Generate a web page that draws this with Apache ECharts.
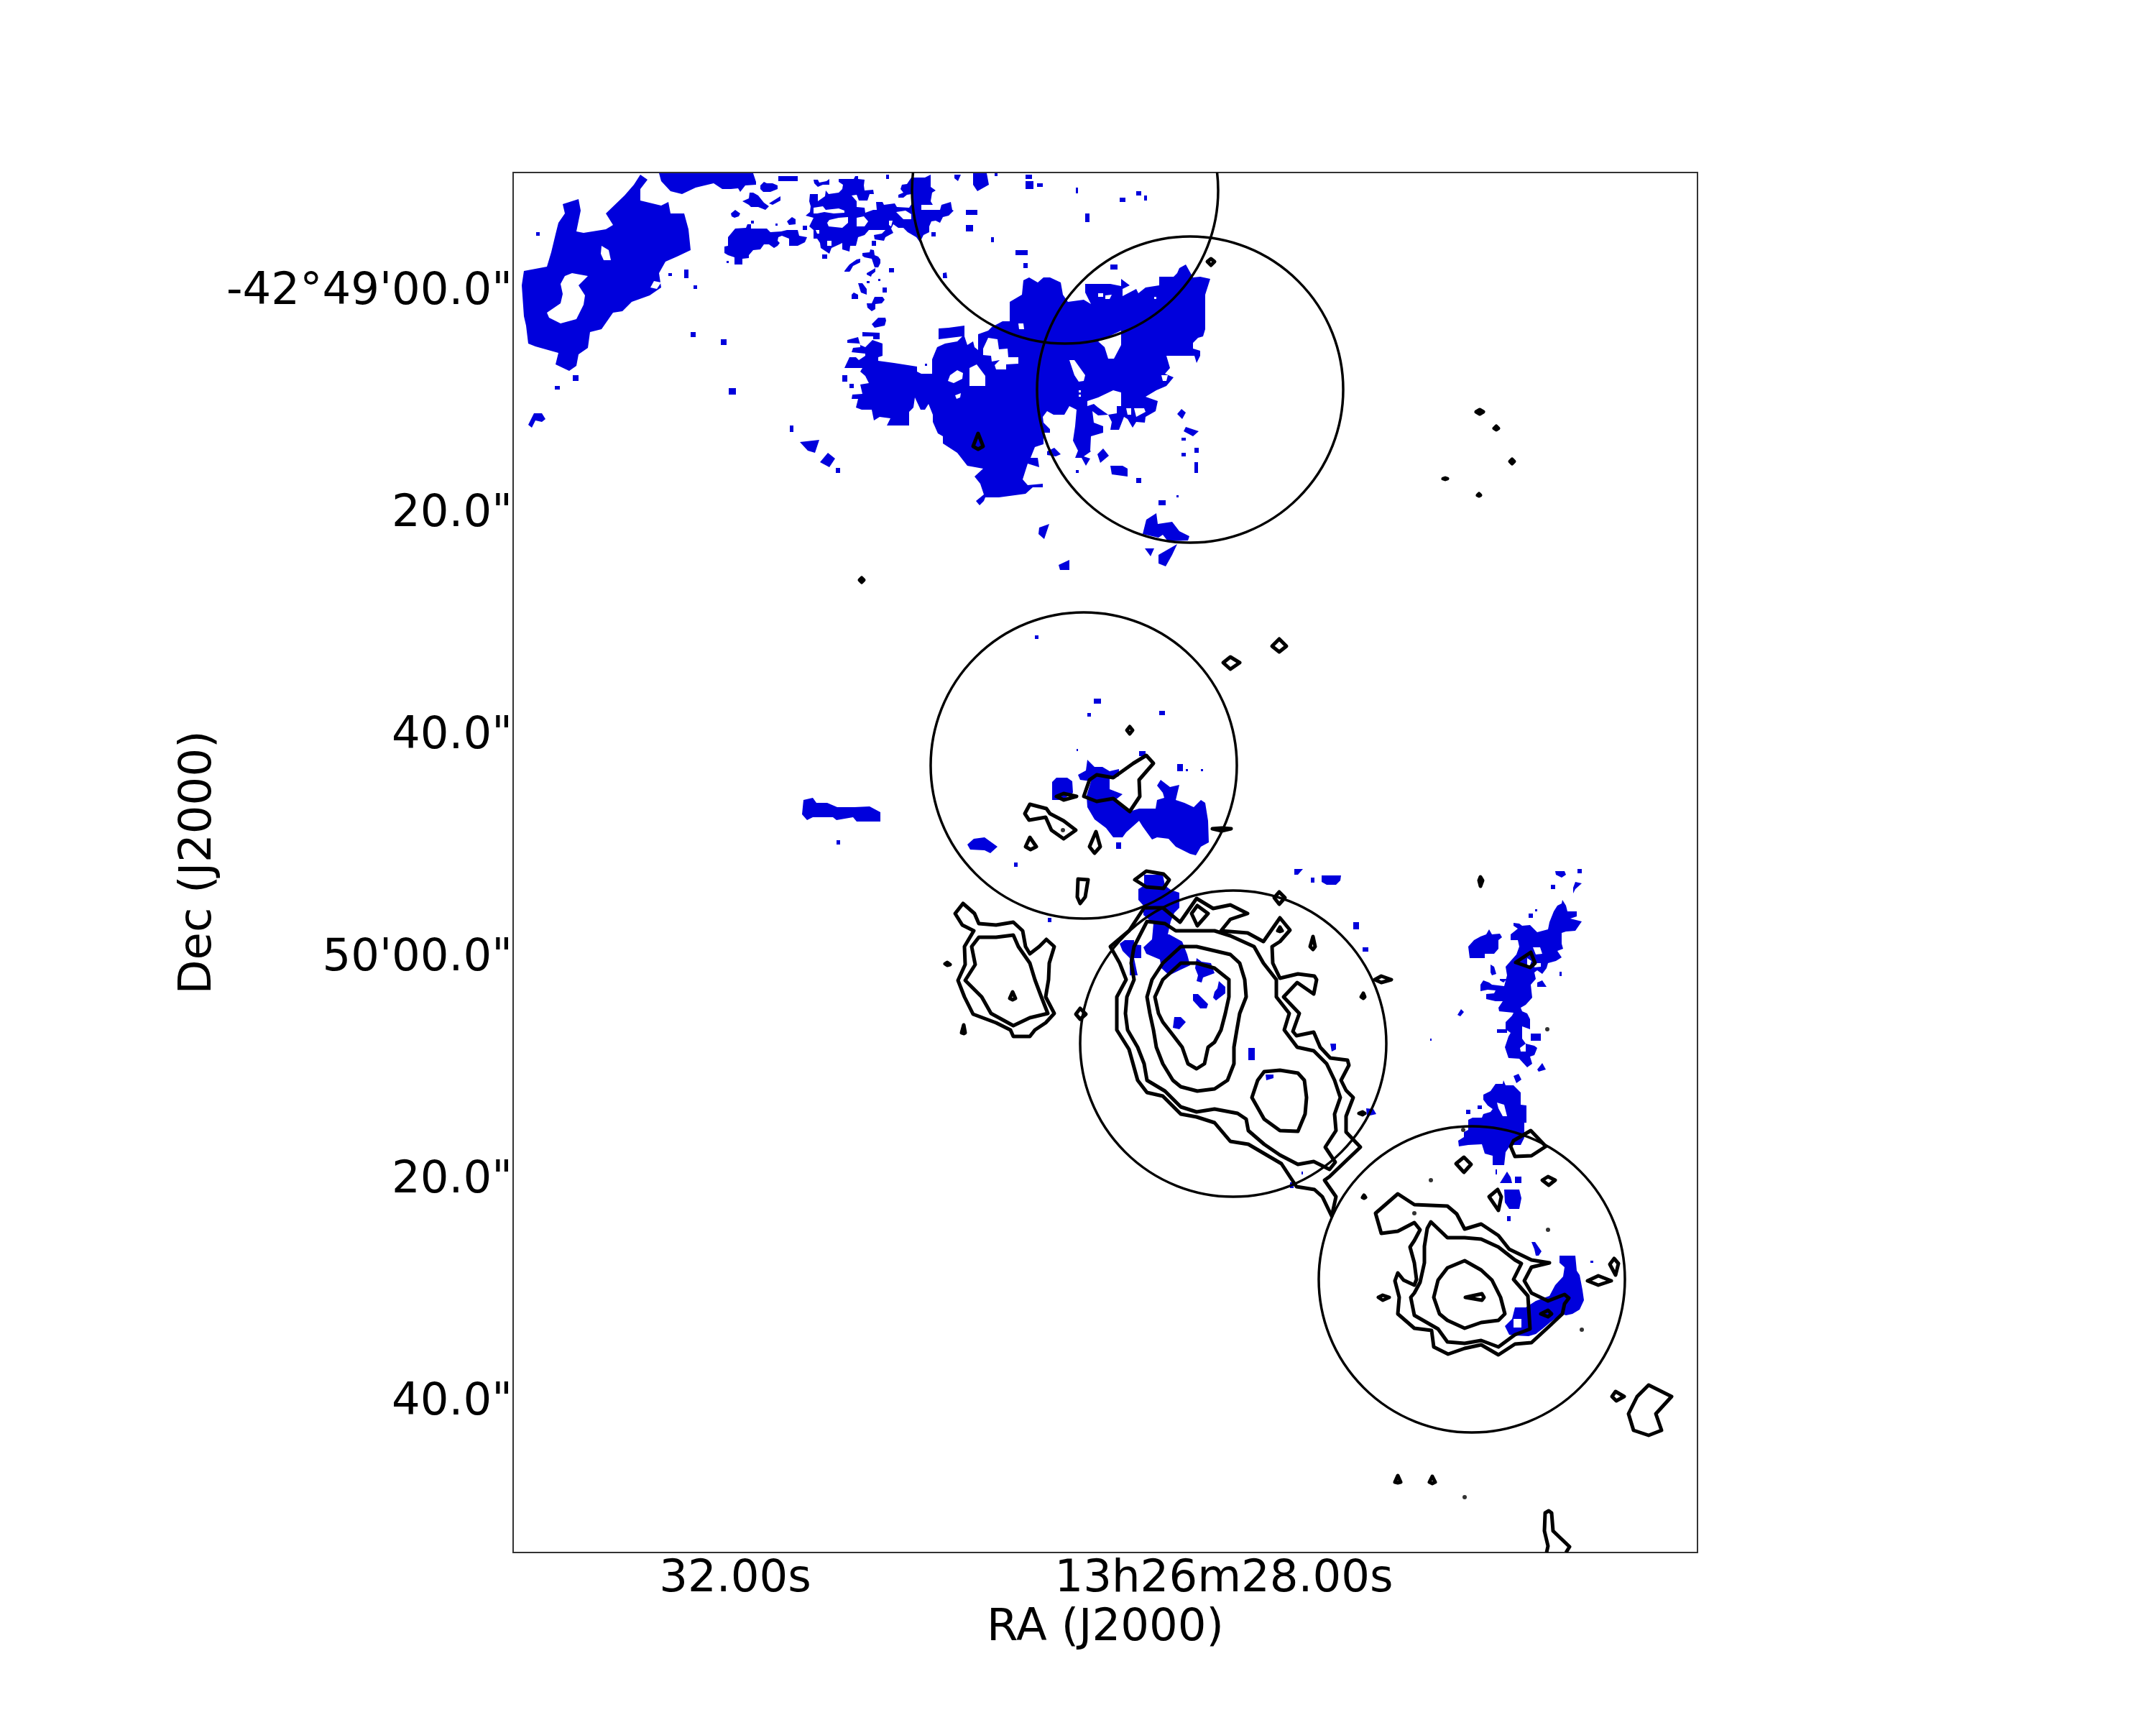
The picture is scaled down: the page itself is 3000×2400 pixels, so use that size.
<!DOCTYPE html>
<html><head><meta charset="utf-8">
<style>html,body{margin:0;padding:0;background:#fff}#c{width:3000px;height:2400px}</style>
<script src="https://cdn.jsdelivr.net/npm/echarts@6/dist/echarts.min.js"></script>
</head><body><div id="c"></div>
<script>
// All positions are image-pixel coordinates of the sky map (as in a WCS image axis).
const xTickValues = [1023, 1703];
const xTickLabels = ['32.00s', '13h26m28.00s'];
const yTickValues = [407, 716, 1025, 1334, 1643, 1952];
const yTickLabels = ['-42°49\'00.0"', '20.0"', '40.0"', '50\'00.0"', '20.0"', '40.0"'];

// Beam / aperture circles: centre x, centre y, radius
const apertures = [[1482,265,213],[1656,542,213],[1508,1065,213],[1716,1452,213],[2048,1780,213]];

// Blue emission: large patches
const emissionNW = [
 [891,243,901,250,891,263,891,279,920,286,930,281,933,297,952,297,958,319,961,348,942,357,926,364,917,380,920,400,904,411,879,420,866,433,853,435,837,458,821,462,818,484,805,493,802,509,792,516,773,507,777,491,745,482,735,478,732,453,729,440,726,397,729,377,761,371,767,351,773,326,777,310,786,297,783,284,805,277,808,293,802,322,812,324,843,319,853,313,843,297,869,272,882,257],
 [917,241,1048,241,1052,253,1052,257,1037,258,1030,267,1027,262,1017,263,1005,263,993,255,968,261,949,270,933,266,920,252],
 [1033,280,1042,276,1043,268,1048,268,1055,272,1063,282,1070,287,1065,292,1055,288,1045,288,1042,285],
 [1070,283,1078,278,1086,273,1086,279,1075,285],
 [1058,258,1063,253,1067,255,1075,255,1082,258,1082,263,1072,267,1062,267,1058,263],
 [1017,297,1023,292,1030,297,1028,301,1022,303,1018,301],
 [1095,308,1102,302,1107,305,1107,312,1098,313],
 [1132,250,1138,250,1140,254,1150,252,1154,249,1154,257,1145,257,1138,260,1133,255],
 [1013,330,1023,318,1038,317,1040,312,1045,312,1045,318,1067,318,1072,323,1087,322,1095,320,1110,320,1112,328,1123,330,1120,337,1110,342,1098,342,1098,332,1088,328,1083,330,1082,335,1085,338,1082,342,1077,345,1070,340,1063,340,1058,347,1048,348,1042,355,1042,359,1033,360,1033,368,1022,368,1022,358,1013,355,1008,352,1008,343,1013,342],
 [1127,270,1138,270,1138,280,1148,273,1149,265,1153,270,1167,268,1172,263,1173,257,1167,253,1167,249,1188,249,1190,245,1194,245,1194,249,1203,250,1202,258,1203,265,1215,264,1216,270,1210,270,1207,279,1195,279,1192,271,1185,272,1192,280,1192,288,1203,289,1204,296,1215,292,1220,292,1219,281,1228,281,1230,285,1245,283,1248,288,1265,289,1269,283,1269,270,1262,271,1257,275,1250,275,1250,271,1257,268,1253,263,1255,257,1262,256,1268,247,1287,247,1295,243,1295,260,1302,265,1297,268,1295,280,1298,285,1282,285,1282,292,1308,292,1310,285,1323,281,1325,292,1327,293,1320,300,1312,302,1308,310,1302,307,1296,308,1293,315,1293,323,1285,327,1280,337,1275,330,1263,323,1257,317,1250,317,1243,312,1240,318,1243,324,1232,330,1230,335,1217,333,1216,327,1227,325,1232,320,1209,320,1203,327,1194,330,1191,342,1183,342,1182,350,1172,347,1172,338,1168,340,1157,345,1154,353,1142,345,1141,338,1137,332,1132,332,1132,320,1126,315,1130,307,1132,303,1121,300,1127,295,1128,287,1126,280],
 [1354,241,1373,241,1376,257,1360,266,1354,257],
 [1200,352,1210,351,1211,347,1216,348,1217,355,1222,357,1225,361,1225,366,1222,372,1217,372,1213,360,1203,358,1200,356],
 [1175,377,1178,373,1182,368,1192,361,1197,360,1197,365,1187,370,1183,377,1182,378,1175,378],
 [1206,380,1213,376,1218,373,1218,378,1213,382,1212,385,1206,382],
 [1194,394,1200,394,1206,402,1206,410,1198,407],
 [1185,410,1188,407,1194,410,1194,416,1185,416],
 [1206,422,1213,422,1217,413,1228,413,1231,417,1227,422,1218,423,1218,430,1213,433,1207,428],
 [1213,451,1222,442,1232,442,1233,446,1231,453,1217,456],
 [1200,462,1224,463,1224,472,1215,472,1215,468,1200,468],
 [1312,380,1317,379,1318,387,1312,387],
 [1328,243,1337,243,1333,252,1328,248],
 [743,575,754,575,759,583,754,587,745,585,740,595,735,591],
 [1113,615,1140,612,1134,630,1124,627],
 [1152,630,1162,638,1154,650,1141,643]
];
const emissionCentral = [
 [1179,473,1194,469,1197,480,1204,483,1214,473,1228,478,1228,495,1222,497,1222,502,1244,505,1276,510,1276,517,1282,520,1297,520,1297,500,1304,483,1315,478,1332,475,1339,468,1306,472,1306,457,1320,456,1342,453,1342,468,1346,480,1354,475,1356,483,1361,487,1361,465,1375,460,1380,455,1395,447,1405,447,1405,420,1422,410,1424,390,1432,386,1444,393,1452,386,1461,386,1476,393,1479,410,1486,420,1508,417,1518,423,1510,407,1510,395,1545,395,1560,398,1560,388,1572,397,1562,402,1562,412,1581,402,1584,408,1594,400,1613,397,1613,385,1633,385,1638,380,1641,373,1650,368,1660,386,1670,385,1684,388,1677,410,1677,458,1674,468,1667,470,1660,477,1660,485,1670,488,1670,495,1665,505,1662,495,1623,495,1628,512,1621,520,1633,525,1623,537,1609,543,1594,552,1611,558,1608,572,1594,580,1593,588,1581,587,1576,595,1569,583,1564,580,1557,598,1545,598,1547,587,1542,577,1528,578,1520,572,1522,588,1535,593,1535,602,1518,607,1517,627,1518,628,1508,635,1517,638,1511,648,1505,637,1496,637,1500,627,1493,613,1496,593,1498,570,1488,565,1481,577,1466,577,1457,572,1451,580,1452,588,1461,597,1461,602,1452,602,1452,618,1440,622,1434,637,1444,637,1446,650,1430,645,1423,667,1430,675,1451,673,1451,678,1437,678,1427,687,1390,692,1371,692,1369,697,1363,703,1358,697,1369,688,1364,673,1356,663,1368,652,1346,648,1332,630,1312,617,1312,607,1305,603,1298,587,1298,577,1292,562,1287,570,1281,570,1273,553,1271,567,1265,573,1265,592,1234,592,1239,582,1224,580,1216,585,1213,570,1199,570,1191,567,1194,555,1185,555,1186,549,1200,548,1197,535,1209,533,1204,523,1197,517,1200,512,1175,512,1182,497,1191,497,1195,501,1204,495,1204,492,1185,490,1187,484,1197,483,1197,478,1179,477],
 [1457,628,1467,623,1476,632,1469,635,1457,633],
 [1535,624,1543,634,1531,644,1527,632],
 [1545,648,1562,648,1569,652,1569,663,1547,660],
 [1644,569,1650,574,1645,583,1638,576],
 [1650,594,1668,600,1660,607,1647,600],
 [1595,723,1609,714,1611,729,1631,726,1641,739,1655,746,1653,752,1625,753,1618,744,1612,748,1590,743],
 [1593,763,1606,763,1601,774],
 [1612,772,1638,757,1631,772,1622,788,1612,784],
 [1446,734,1460,729,1453,750,1445,743],
 [1473,786,1488,779,1488,793,1475,793]
];
const emissionMid = [
 [1118,1113,1131,1110,1136,1117,1151,1117,1165,1123,1189,1123,1210,1122,1225,1130,1225,1143,1192,1143,1187,1137,1164,1141,1159,1137,1131,1137,1123,1141,1116,1133],
 [1355,1167,1370,1165,1388,1178,1378,1187,1370,1183,1350,1182,1346,1175],
 [1470,1082,1485,1082,1492,1087,1493,1103,1478,1113,1464,1113,1464,1088],
 [1513,1057,1523,1067,1534,1067,1544,1073,1557,1070,1557,1080,1544,1083,1544,1098,1562,1105,1552,1113,1572,1129,1585,1125,1608,1125,1610,1113,1620,1110,1618,1103,1610,1093,1615,1085,1628,1095,1641,1092,1636,1113,1648,1117,1661,1123,1671,1113,1677,1117,1681,1142,1682,1172,1671,1178,1664,1190,1656,1188,1636,1178,1626,1167,1610,1165,1603,1168,1590,1150,1585,1142,1567,1158,1562,1165,1549,1165,1539,1152,1523,1140,1513,1123,1512,1107,1518,1087,1503,1085,1500,1078,1511,1072],
 [1592,1217,1618,1217,1621,1232,1629,1238,1641,1242,1641,1263,1634,1270,1629,1282,1625,1300,1627,1300,1645,1310,1652,1328,1656,1343,1641,1350,1627,1357,1616,1347,1614,1335,1595,1327,1591,1318,1603,1307,1605,1285,1591,1273,1591,1260,1584,1252,1584,1237,1592,1232],
 [1558,1313,1565,1308,1578,1308,1578,1314,1588,1315,1588,1333,1578,1333,1583,1357,1572,1357,1572,1333,1562,1323],
 [1665,1333,1672,1338,1685,1340,1690,1354,1674,1360,1672,1367,1665,1365,1667,1357,1663,1347],
 [1696,1365,1705,1373,1705,1382,1692,1392,1688,1388,1690,1380,1694,1375],
 [1660,1383,1667,1383,1681,1397,1679,1403,1670,1403,1660,1392],
 [1634,1415,1643,1415,1650,1422,1641,1432,1632,1430],
 [1761,1495,1772,1495,1772,1500,1762,1503],
 [1851,1452,1859,1452,1859,1460,1853,1463],
 [1901,1542,1911,1543,1915,1550,1902,1553],
 [1801,1209,1813,1209,1806,1217,1801,1217],
 [1839,1218,1866,1218,1865,1225,1859,1231,1846,1231,1839,1227]
];
const emissionEast = [
 [2164,1212,2177,1212,2179,1217,2173,1221,2165,1217],
 [2192,1227,2201,1229,2192,1237,2189,1243,2189,1235],
 [2174,1252,2179,1260,2181,1268,2194,1268,2194,1275,2185,1278,2201,1282,2192,1295,2179,1296,2173,1298,2173,1313,2175,1320,2167,1323,2173,1332,2165,1337,2154,1340,2152,1347,2146,1355,2139,1350,2135,1353,2137,1362,2130,1370,2132,1388,2123,1398,2116,1402,2118,1407,2125,1410,2129,1418,2129,1432,2118,1428,2118,1445,2123,1452,2135,1455,2139,1458,2135,1468,2129,1470,2132,1480,2125,1485,2114,1473,2099,1472,2094,1457,2099,1442,2102,1437,2095,1432,2095,1422,2104,1413,2106,1409,2086,1407,2085,1402,2091,1393,2081,1393,2068,1390,2068,1383,2079,1382,2081,1378,2070,1377,2060,1379,2060,1370,2064,1364,2072,1367,2076,1370,2093,1372,2097,1357,2095,1345,2102,1337,2110,1328,2114,1317,2112,1308,2102,1308,2102,1300,2112,1292,2106,1288,2106,1284,2114,1285,2118,1288,2129,1287,2139,1297,2154,1293,2156,1283,2162,1268,2167,1260,2173,1257],
 [2072,1293,2076,1300,2087,1299,2090,1304,2085,1308,2085,1320,2079,1327,2066,1327,2066,1333,2045,1333,2043,1317,2051,1308,2060,1303,2068,1300],
 [2074,1342,2079,1345,2082,1355,2076,1357,2074,1353],
 [2087,1362,2097,1362,2092,1367,2087,1364],
 [2139,1367,2146,1364,2152,1373,2139,1373],
 [2033,1404,2037,1408,2032,1414,2028,1412],
 [2139,1488,2146,1479,2151,1488,2141,1491],
 [2106,1497,2113,1494,2117,1502,2110,1507],
 [2092,1503,2095,1510,2106,1510,2116,1520,2116,1537,2124,1538,2124,1562,2121,1562,2121,1583,2116,1593,2102,1593,2095,1603,2093,1621,2077,1621,2077,1608,2066,1605,2062,1592,2043,1593,2030,1595,2029,1587,2037,1582,2037,1575,2043,1572,2043,1558,2049,1555,2062,1555,2064,1550,2074,1547,2077,1543,2070,1538,2064,1530,2064,1523,2074,1518,2081,1508,2091,1508],
 [2097,1630,2102,1638,2104,1646,2087,1646],
 [2093,1655,2114,1655,2117,1667,2114,1682,2100,1682,2094,1673],
 [2131,1728,2136,1728,2145,1741,2141,1747,2137,1747,2135,1738],
 [2170,1747,2192,1747,2194,1768,2198,1774,2202,1795,2204,1809,2198,1822,2188,1828,2179,1830,2173,1828,2158,1839,2146,1849,2137,1856,2127,1859,2106,1858,2100,1857,2094,1845,2104,1835,2108,1819,2123,1819,2137,1810,2156,1803,2164,1788,2175,1776,2177,1763,2170,1757]
];
// Blue emission: single small clumps, x0,y0,x1,y1
const emissionClumps = [
 [1083,245,1110,252],[1427,243,1436,249],[1427,252,1438,263],[1117,314,1123,320],[1045,307,1049,311],[1079,311,1082,314],
 [1144,354,1151,360],[1213,335,1219,342],[1296,323,1302,329],[1237,373,1244,379],[1222,388,1225,391],[1206,391,1210,394],[1228,400,1234,407],[1011,363,1014,366],
 [1344,292,1360,299],[1344,313,1354,322],[1413,348,1430,355],[1424,366,1430,373],[1379,330,1383,337],[1558,275,1566,281],
 [1581,266,1588,272],[1592,272,1596,279],[1497,261,1500,269],[1510,297,1516,309],[1443,255,1451,260],[1545,368,1555,375],
 [1233,243,1237,249],[1384,241,1388,245],[930,380,935,384],
 [952,375,958,387],[965,397,970,402],[961,462,968,469],[1003,472,1011,480],[746,323,751,328],[797,522,805,530],[772,537,779,542],
 [1014,540,1024,549],[1099,592,1104,601],[1163,651,1169,658],[1581,665,1588,672],[1497,654,1501,658],[1644,609,1650,613],
 [1662,623,1668,630],[1644,630,1650,635],[1662,643,1667,658],[1612,696,1622,703],[1637,689,1640,692],[1440,884,1445,889],
 [1172,522,1179,531],[1182,534,1188,540],[1287,506,1290,509],
 [1164,1169,1169,1175],[1411,1200,1416,1206],[1522,972,1532,979],[1513,992,1518,997],[1613,989,1621,995],[1498,1042,1500,1045],
 [1585,1045,1594,1052],[1638,1063,1646,1073],[1650,1070,1653,1073],[1671,1070,1674,1073],[1553,1172,1560,1181],[1458,1277,1463,1283],
 [1737,1458,1746,1475],[1883,1283,1891,1293],[1896,1318,1904,1324],[1824,1221,1829,1228],[1795,1645,1800,1653],[1811,1630,1813,1634],
 [2195,1209,2201,1215],[2158,1231,2164,1237],[2130,1438,2144,1448],[2127,1271,2133,1277],[2136,1265,2139,1268],[2170,1352,2173,1358],
 [1990,1445,1992,1448],[2083,1432,2097,1437],[2056,1538,2062,1543],[2040,1544,2046,1550],[2081,1627,2083,1634],[2108,1637,2117,1646],
 [2097,1692,2102,1699],[2213,1754,2217,1757]
];
// Gaps inside the blue emission
const emissionGaps = [
 [796,380,818,384,805,397,814,411,812,424,802,444,780,450,764,442,761,435,780,422,783,409,780,395,786,384],
 [837,342,847,348,850,362,840,362,836,353],[910,391,920,393,914,402,905,400],
 [1132,289,1145,287,1149,292,1167,290,1175,293,1175,296,1160,297,1147,295,1137,297,1132,297],
 [1154,306,1167,303,1180,302,1180,310,1172,317,1153,315,1151,310],
 [1192,303,1202,301,1208,308,1203,315,1192,315],
 [1247,295,1260,293,1268,298,1268,305,1257,305],
 [1135,320,1140,320,1140,325,1137,325],[1151,335,1157,335,1157,342,1151,342],[1237,307,1242,307,1240,315,1237,313],
 [1488,501,1495,501,1510,522,1508,530,1501,531,1495,522],
 [1528,475,1560,460,1560,480,1550,499,1542,499,1537,483],
 [1513,558,1528,553,1549,543,1560,546,1560,565,1554,565,1554,575,1542,577,1528,567,1522,562,1513,565],
 [1567,568,1574,568,1574,577,1569,577],[1578,568,1592,568,1594,573,1581,580],
 [1322,522,1332,515,1340,519,1339,527,1327,533,1319,530],
 [1349,512,1359,507,1371,523,1371,537,1349,537],
 [1329,550,1337,547,1336,553,1331,555],
 [1368,485,1375,470,1388,472,1390,486,1402,485,1403,497,1417,497,1417,506,1400,507,1400,514,1386,514,1384,508,1391,501,1380,503,1379,495,1368,494],
 [1417,450,1424,450,1425,458,1418,458],[1616,522,1625,522,1623,530,1618,530],
 [1528,408,1535,408,1535,413,1528,413],[1538,411,1547,410,1544,416,1538,416],
 [1501,543,1504,543,1504,546,1501,546],[1501,549,1504,549,1504,552,1501,552],[1606,413,1609,413,1609,416,1606,416],
 [2133,1318,2143,1318,2146,1327,2137,1328],[2136,1340,2144,1340,2144,1345,2135,1346],[2125,1333,2131,1337,2129,1343,2125,1343],[2115,1458,2123,1452,2123,1463,2116,1463],
 [2083,1534,2093,1537,2097,1553,2091,1553,2085,1542],[2106,1835,2117,1835,2117,1847,2106,1847]
];

// Black contours around the central galaxy
const contoursCentral = [
 [1545,1317,1571,1295,1592,1263,1618,1263,1642,1283,1665,1250,1688,1264,1712,1259,1736,1271,1712,1279,1699,1295,1736,1298,1758,1310,1781,1277,1795,1294,1781,1310,1770,1317,1771,1340,1781,1361,1806,1355,1829,1358,1832,1363,1828,1383,1805,1367,1786,1387,1808,1410,1799,1435,1804,1441,1828,1436,1837,1457,1851,1472,1875,1475,1877,1482,1866,1503,1873,1517,1883,1527,1873,1553,1873,1575,1893,1596,1873,1615,1850,1637,1843,1642,1859,1665,1853,1692,1840,1665,1829,1655,1804,1651,1783,1619,1737,1592,1712,1588,1690,1562,1665,1554,1643,1550,1618,1525,1596,1520,1583,1503,1571,1460,1554,1433,1554,1387,1567,1363,1558,1340],
 [1596,1282,1621,1285,1636,1295,1690,1295,1712,1302,1745,1317,1758,1340,1776,1363,1776,1387,1794,1410,1787,1433,1805,1457,1828,1462,1846,1480,1857,1503,1865,1527,1857,1550,1859,1573,1844,1596,1858,1617,1850,1627,1828,1616,1806,1620,1781,1607,1759,1592,1737,1573,1734,1557,1722,1549,1690,1543,1665,1547,1643,1540,1621,1518,1596,1503,1592,1480,1583,1457,1569,1433,1566,1410,1568,1387,1578,1363,1574,1340,1578,1317],
 [1643,1317,1665,1317,1712,1328,1725,1340,1732,1363,1734,1387,1725,1410,1721,1433,1717,1457,1717,1480,1708,1503,1690,1515,1666,1518,1643,1512,1632,1503,1618,1480,1609,1457,1605,1433,1600,1410,1596,1387,1603,1363,1618,1340],
 [1643,1340,1665,1340,1690,1347,1710,1363,1710,1387,1705,1410,1699,1433,1690,1450,1681,1457,1676,1480,1665,1487,1653,1480,1645,1457,1632,1440,1618,1422,1612,1410,1607,1387,1618,1363],
 [1759,1491,1781,1489,1806,1493,1815,1503,1818,1527,1816,1550,1806,1574,1781,1573,1759,1557,1742,1527,1750,1503]
];
const contoursWestBlob = [
 [1340,1257,1356,1271,1362,1285,1386,1287,1410,1283,1423,1295,1427,1317,1433,1327,1446,1317,1456,1307,1467,1317,1460,1340,1459,1363,1455,1387,1467,1410,1455,1423,1440,1433,1433,1442,1410,1442,1406,1433,1386,1423,1354,1411,1342,1387,1333,1364,1343,1342,1342,1317,1355,1295,1339,1287,1329,1271],
 [1362,1304,1386,1304,1410,1301,1417,1317,1433,1340,1440,1363,1449,1387,1458,1410,1433,1416,1410,1427,1379,1410,1366,1387,1343,1364,1357,1342,1352,1317]
];
const contoursSouth = [
 [1945,1661,1968,1676,2014,1678,2027,1689,2038,1710,2061,1703,2085,1719,2100,1738,2131,1753,2156,1757,2131,1763,2121,1782,2131,1799,2154,1810,2177,1801,2183,1806,2177,1814,2174,1828,2156,1845,2131,1868,2108,1870,2085,1885,2061,1871,2038,1876,2015,1884,1995,1874,1992,1851,1968,1848,1945,1828,1947,1805,1941,1782,1945,1771,1953,1781,1968,1788,1971,1780,1968,1757,1962,1735,1968,1726,1976,1711,1968,1701,1945,1713,1922,1716,1914,1688],
 [1991,1700,2014,1722,2038,1722,2061,1724,2085,1735,2108,1753,2117,1758,2106,1780,2126,1803,2129,1849,2108,1857,2085,1874,2061,1865,2038,1869,2014,1867,2001,1849,1968,1830,1963,1805,1968,1799,1976,1784,1982,1757,1982,1734,1986,1709],
 [2038,1754,2061,1767,2076,1781,2088,1805,2094,1828,2085,1837,2061,1840,2038,1848,2014,1837,2003,1828,1995,1805,2001,1781,2014,1764],
 [2294,1927,2326,1943,2304,1967,2312,1990,2294,1997,2273,1990,2266,1967,2278,1943]
];
const contoursSmall = [
 [1595,1051,1605,1062,1585,1085,1586,1108,1572,1129,1549,1111,1526,1115,1508,1108,1516,1085,1526,1078,1549,1082,1577,1062],
 [1433,1119,1456,1125,1461,1132,1480,1142,1497,1155,1480,1167,1463,1155,1455,1137,1432,1141,1426,1132],
 [1470,1108,1480,1104,1498,1108,1480,1113],[1433,1165,1442,1178,1434,1182,1427,1178],[1525,1157,1531,1178,1523,1187,1516,1178],
 [1500,1223,1514,1224,1510,1248,1503,1257,1499,1248],[1595,1212,1619,1216,1627,1224,1619,1236,1595,1234,1579,1224],
 [1572,1011,1576,1016,1572,1021,1568,1016],[1712,914,1725,922,1712,931,1702,922],[1780,889,1790,899,1780,907,1770,899],
 [1687,1153,1700,1152,1713,1153,1700,1156],[1666,1260,1681,1271,1666,1288,1658,1271],[1780,1241,1788,1249,1780,1258,1773,1249],
 [1503,1403,1511,1411,1503,1418,1497,1411],[1781,1290,1784,1295,1781,1296,1778,1295],[1827,1303,1830,1317,1827,1321,1823,1317],
 [1409,1380,1413,1389,1409,1391,1405,1389],[1341,1426,1343,1437,1341,1438,1338,1437],[1318,1339,1322,1342,1318,1343,1315,1341],
 [1913,1363,1922,1358,1936,1363,1922,1367],[1897,1382,1899,1387,1897,1389,1894,1387],[1891,1549,1896,1547,1899,1549,1896,1551],
 [2060,1220,2063,1225,2060,1233,2058,1225],[2130,1325,2136,1340,2129,1346,2109,1339],
 [2130,1573,2151,1595,2131,1608,2108,1609,2102,1595,2106,1587],[2037,1610,2047,1620,2037,1631,2026,1619],
 [2154,1637,2164,1642,2155,1649,2146,1642],[2084,1655,2089,1665,2085,1684,2072,1665],[1898,1663,1900,1666,1898,1667,1896,1666],
 [2039,1805,2062,1800,2065,1805,2062,1809],[2144,1828,2154,1823,2159,1828,2154,1832],[2209,1782,2224,1775,2242,1782,2224,1788],
 [2246,1751,2252,1758,2248,1774,2240,1759],[2248,1936,2260,1943,2249,1949,2243,1943],[1945,2053,1949,2062,1945,2063,1941,2062],
 [1993,2054,1997,2062,1993,2064,1989,2062],[1918,1805,1924,1802,1933,1805,1924,1809],
 [1685,360,1690,364,1685,369,1680,364],[1361,603,1368,621,1361,625,1354,621],[1196,807,1199,804,1202,807,1199,810],
 [2054,573,2059,570,2064,573,2059,576],[2082,593,2085,596,2082,598,2079,596],[2104,639,2107,642,2104,645,2101,642],
 [2008,666,2011,665,2014,666,2011,667],[2058,687,2060,689,2058,690,2056,689]
];
const contourDots = [[2036,1572],[2153,1432],[1991,1642],[2154,1711],[1968,1688],[2038,2083],[2201,1850],[1479,1155]];
const contourOpen = [[2152,2160,2154,2151,2149,2130,2150,2105,2155,2102,2159,2105,2161,2130,2184,2152,2179,2160]];

const toPts = f => { const p = []; for (let i = 0; i < f.length; i += 2) p.push([f[i], f[i + 1]]); return p; };
const firstXY = f => [f[0], f[1]];

function polySeries(list, style, closed, z) {
  return {
    type: 'custom', coordinateSystem: 'cartesian2d', clip: true, silent: true, z,
    data: list.map(firstXY),
    renderItem: (params, api) => {
      const pts = toPts(list[params.dataIndex]).map(q => api.coord(q));
      return { type: closed ? 'polygon' : 'polyline', shape: { points: pts }, style };
    }
  };
}
const clumpsAsFlat = emissionClumps.map(r => [r[0],r[1],r[2],r[1],r[2],r[3],r[0],r[3]]);
const blue = '#0000dc';
const blueStyle = { fill: blue, stroke: null };
const gapStyle = { fill: '#ffffff', stroke: null };
const lineStyle = { fill: null, stroke: '#000', lineWidth: 5, lineJoin: 'round' };

const option = {
  animation: false, backgroundColor: '#fff',
  grid: { left: 714, top: 240, width: 1648, height: 1920, show: true, backgroundColor: '#fff', borderColor: '#333', borderWidth: 2, containLabel: false },
  xAxis: {
    type: 'value', min: 714, max: 2362, splitLine: { show: false }, axisLine: { show: false }, axisTick: { show: false },
    name: 'RA (J2000)', nameLocation: 'middle', nameGap: 70, nameTextStyle: { fontFamily: 'DejaVu Sans', fontSize: 62.5, color: '#000' },
    axisLabel: { customValues: xTickValues, formatter: v => xTickLabels[xTickValues.indexOf(v)], fontFamily: 'DejaVu Sans', fontSize: 62.5, color: '#000', margin: 6 }
  },
  yAxis: {
    type: 'value', inverse: true, min: 240, max: 2160, splitLine: { show: false }, axisLine: { show: false }, axisTick: { show: false },
    name: 'Dec (J2000)', nameLocation: 'middle', nameGap: 406, nameMoveOverlap: false, nameTextStyle: { fontFamily: 'DejaVu Sans', fontSize: 62.5, color: '#000' },
    axisLabel: { customValues: yTickValues, formatter: v => yTickLabels[yTickValues.indexOf(v)], fontFamily: 'DejaVu Sans', fontSize: 62.5, color: '#000', margin: 1 }
  },
  series: [
    polySeries([...emissionNW, ...emissionCentral, ...emissionMid, ...emissionEast, ...clumpsAsFlat], blueStyle, true, 2),
    polySeries(emissionGaps, gapStyle, true, 3),
    polySeries([...contoursCentral, ...contoursWestBlob, ...contoursSouth, ...contoursSmall], lineStyle, true, 4),
    polySeries(contourOpen, lineStyle, false, 4),
    { type: 'scatter', z: 4, silent: true, symbol: 'circle', symbolSize: 6, itemStyle: { color: '#000' }, data: contourDots },
    {
      type: 'custom', coordinateSystem: 'cartesian2d', clip: true, silent: true, z: 5,
      data: apertures,
      renderItem: (params, api) => {
        const c = api.coord([api.value(0), api.value(1)]);
        const r = api.size([api.value(2), 0])[0];
        return { type: 'circle', shape: { cx: c[0], cy: c[1], r }, style: { fill: null, stroke: '#000', lineWidth: 3.5 } };
      }
    }
  ]
};
echarts.init(document.getElementById('c')).setOption(option);
</script></body></html>
